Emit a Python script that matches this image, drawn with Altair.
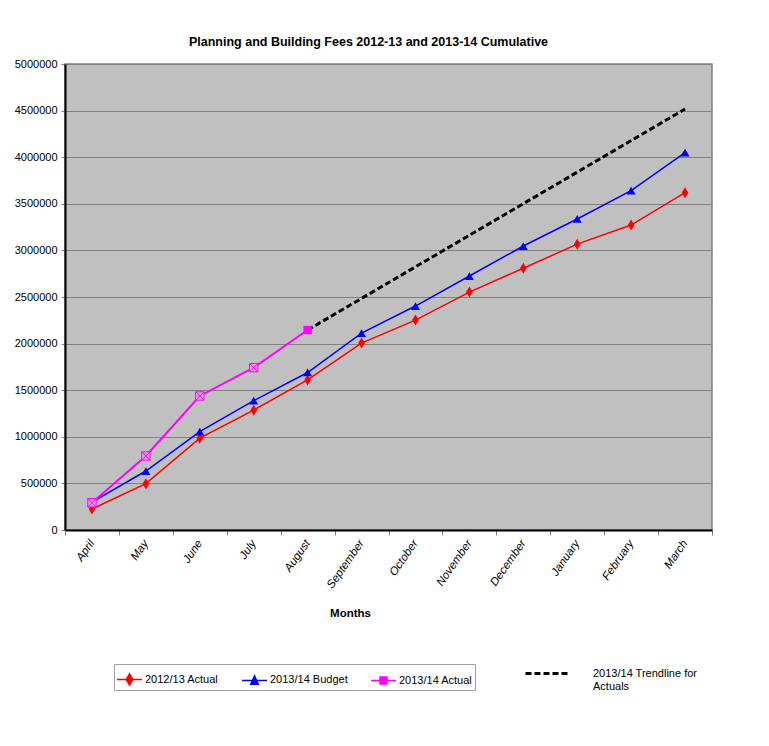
import altair as alt
import pandas as pd

months = ["April", "May", "June", "July", "August", "September", "October",
          "November", "December", "January", "February", "March"]
series_names = ["2012/13 Actual", "2013/14 Budget", "2013/14 Actual"]
actual_1213 = [225000, 497000, 985000, 1286000, 1610000, 2006000, 2252000,
               2553000, 2808000, 3067000, 3272000, 3619000]
budget_1314 = [300000, 633000, 1055000, 1388000, 1690000, 2112000, 2403000,
               2725000, 3047000, 3337000, 3641000, 4048000]
actual_1314 = [293000, 794000, 1438000, 1742000, 2146000]
trend_months = ["August", "March"]
trend_values = [2146000, 4517000]
y_ticks = [0, 500000, 1000000, 1500000, 2000000, 2500000, 3000000, 3500000,
           4000000, 4500000, 5000000]

colors = ["#FF0000", "#0000FF", "#FF00FF"]

rows = []
for name, vals in zip(series_names, [actual_1213, budget_1314, actual_1314]):
    for m, v in zip(months, vals):
        rows.append({"month": m, "series": name, "value": v})
df = pd.DataFrame(rows)
trend_df = pd.DataFrame({"month": trend_months, "value": trend_values,
                         "label": ["Trend"] * len(trend_months)})

FONT = "Liberation Sans, Arial, sans-serif"

xaxis = alt.Axis(title="Months", titleFont=FONT, titleFontSize=11.5, titleFontWeight="bold",
                 titleX=285, titleY=83, titleBaseline="middle",
                 labelAngle=-55, labelFontStyle="italic", labelFont=FONT, labelFontSize=11.5,
                 labelColor="black", labelPadding=6,
                 tickBand="extent", tickColor="#808080", tickSize=5, tickWidth=1,
                 domainColor="black", domainWidth=2, grid=False)
yaxis = alt.Axis(title=None, values=y_ticks, format="d", labelFont=FONT, labelFontSize=11,
                 labelColor="black", labelPadding=4,
                 tickColor="#808080", tickSize=4, domainColor="black", domainWidth=2,
                 grid=True, gridColor="#808080", gridWidth=1)

X = alt.X("month:N", sort=months,
          scale=alt.Scale(type="band", domain=months, paddingInner=0, paddingOuter=0),
          axis=xaxis)
Y = alt.Y("value:Q", scale=alt.Scale(domain=[0, 5000000], nice=False), axis=yaxis)

base = alt.Chart(df)

diamond = "M0,-1L0.6,0L0,1L-0.6,0Z"
sqx = "M-1,-1H1V1H-1ZM-1,-1L1,1M1,-1L-1,1"

layers = []
# trendline
leg2 = alt.Legend(orient="none", legendX=459, legendY=586, title=None,
                  labelExpr="['2013/14 Trendline for', 'Actuals']",
                  symbolSize=1936, symbolStrokeWidth=3, symbolStrokeColor="black",
                  labelOffset=22, labelFont=FONT, labelFontSize=11, labelColor="black",
                  padding=0)
layers.append(
    alt.Chart(trend_df).mark_line(color="black", strokeWidth=3).encode(
        x=X, y=Y,
        strokeDash=alt.StrokeDash("label:N", scale=alt.Scale(domain=["Trend"], range=[[6, 3]]),
                                  legend=leg2))
)

layers.append(base.transform_filter(alt.datum.series == series_names[0])
              .mark_line(color=colors[0], strokeWidth=1.5).encode(x=X, y=Y))
layers.append(base.transform_filter(alt.datum.series == series_names[1])
              .mark_line(color=colors[1], strokeWidth=1.5).encode(x=X, y=Y))
layers.append(base.transform_filter(alt.datum.series == series_names[2])
              .mark_line(color=colors[2], strokeWidth=2).encode(x=X, y=Y))

layers.append(base.transform_filter(alt.datum.series == series_names[0])
              .mark_point(shape=diamond, filled=True, color=colors[0], size=121, opacity=1)
              .encode(x=X, y=Y))
layers.append(base.transform_filter(alt.datum.series == series_names[1])
              .mark_point(shape="triangle-up", filled=True, color=colors[1], size=80, opacity=1)
              .encode(x=X, y=Y))
layers.append(base.transform_filter((alt.datum.series == series_names[2]) & (alt.datum.month != "August"))
              .mark_point(shape=sqx, fill="#E0A0E8", stroke=colors[2], strokeWidth=1,
                          size=70, opacity=1)
              .encode(x=X, y=Y))
layers.append(base.transform_filter((alt.datum.series == series_names[2]) & (alt.datum.month == "August"))
              .mark_point(shape="square", filled=True, color=colors[2], size=70, opacity=1)
              .encode(x=X, y=Y))

# legend layer
paths = ["M-1,0H1M0,-0.44L0.26,0L0,0.44L-0.26,0Z",
         "M-1,0H1M0,-0.36L0.3,0.3L-0.3,0.3Z",
         "M-1,0H1M-0.28,-0.28H0.28V0.28H-0.28Z"]
leg1 = alt.Legend(orient="none", legendX=49, legendY=600, title=None, direction="horizontal",
                  strokeColor="#A0A0A0", padding=2, columnPadding=20,
                  labelFont=FONT, labelFontSize=11, labelColor="black", labelOffset=2,
                  symbolSize=625, symbolStrokeWidth=1.5)
layers.append(base.transform_filter("false")
              .mark_point(filled=True, strokeWidth=1.5, opacity=1)
              .encode(x=X, y=Y,
                      color=alt.Color("series:N", scale=alt.Scale(domain=series_names, range=colors),
                                      legend=leg1),
                      stroke=alt.Stroke("series:N", scale=alt.Scale(domain=series_names, range=colors),
                                        legend=leg1),
                      shape=alt.Shape("series:N", scale=alt.Scale(domain=series_names, range=paths),
                                      legend=leg1)))

chart = alt.layer(*layers).properties(
    width=647, height=466,
    autosize=alt.AutoSizeParams(type="none"),
    padding={"left": 65, "top": 64, "right": 57, "bottom": 216},
    title=alt.Title("Planning and Building Fees 2012-13 and 2013-14 Cumulative",
                    font=FONT, fontSize=12.5, fontWeight="bold", color="black",
                    anchor="middle", dx=-20, offset=10),
    background="white",
).configure_view(fill="#C0C0C0", stroke="#808080", strokeWidth=1.5)

chart.save("out.html", embed_options={"renderer": "svg", "actions": False})
